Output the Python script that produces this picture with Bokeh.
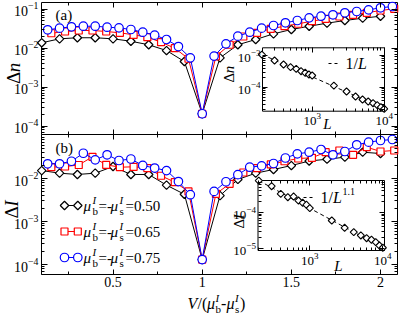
import math
from bokeh.plotting import figure
from bokeh.models import (Range1d, LogScale, LinearScale, LinearAxis, LogAxis, FixedTicker,
                          LogTickFormatter, NumeralTickFormatter, CustomJSTickFormatter, Label)
from bokeh.embed import file_html
from bokeh.resources import INLINE

# ---------------- data ----------------
mu_050, mu_065, mu_075 = 0.50, 0.65, 0.75

V_050 = [0.1, 0.2, 0.3, 0.4, 0.5, 0.6, 0.7, 0.8, 0.9, 1.0,
         1.1, 1.2, 1.3, 1.4, 1.5, 1.6, 1.7, 1.8, 1.9, 2.0]
dn_050 = [0.0136, 0.0172, 0.0183, 0.0183, 0.0172, 0.0149, 0.0121, 0.0086, 0.0045, 2.06e-4,
          0.0056, 0.0121, 0.0165, 0.0231, 0.0298, 0.0362, 0.0433, 0.0507, 0.0581, 0.0653]
dI_050 = [0.0153, 0.0133, 0.0124, 0.0133, 0.0190, 0.0124, 0.0124, 0.0070, 0.0043, 1.3e-4,
          0.0040, 0.0095, 0.0133, 0.0162, 0.0200, 0.0255, 0.0281, 0.0313, 0.0409, 0.0381]

V_065 = [0.2, 0.3, 0.4, 0.5, 0.6, 0.7, 0.8, 0.9, 1.0, 1.1, 1.2, 1.3, 1.4,
         1.5, 1.6, 1.7, 1.8, 1.9, 2.0, 2.1, 2.2, 2.3, 2.4, 2.5, 2.6, 2.7]
dn_065 = [0.0239, 0.0265, 0.0281, 0.0281, 0.0265, 0.0245, 0.0218, 0.0189, 0.0141, 0.0099, 0.0053,
          2.06e-4,
          0.0061, 0.0121, 0.0197, 0.0245, 0.0311, 0.0362, 0.0418, 0.0486, 0.0561, 0.0643,
          0.0710, 0.0800, 0.0916, 0.1012]
dI_065 = [0.0183, 0.0190, 0.0206, 0.0320, 0.0208, 0.0183, 0.0187, 0.0175, 0.0116, 0.0082, 0.0050,
          1.3e-4,
          0.0044, 0.0075, 0.0138, 0.0175, 0.0212, 0.0252, 0.0292, 0.0303, 0.0409, 0.0448,
          0.0356, 0.0534, 0.0425, 0.0448]

V_075 = [0.2, 0.3, 0.4, 0.5, 0.6, 0.7, 0.8, 0.9, 1.0, 1.1, 1.2, 1.3, 1.4, 1.5, 1.6,
         1.7, 1.8, 1.9, 2.0, 2.1, 2.2, 2.3, 2.4, 2.5, 2.6, 2.7, 2.8, 2.9, 3.0, 3.1]
dn_075 = [0.0293, 0.0322, 0.0350, 0.0362, 0.0362, 0.0341, 0.0329, 0.0298, 0.0254, 0.0213,
          0.0165, 0.0109, 0.0056,
          2.06e-4,
          0.0062, 0.0128, 0.0201, 0.0254, 0.0322, 0.0378, 0.0443, 0.0507, 0.0594, 0.0653,
          0.0710, 0.0800, 0.0863, 0.0953, 0.1074, 0.1159]
dI_075 = [0.0220, 0.0220, 0.0252, 0.0387, 0.0272, 0.0356, 0.0262, 0.0284, 0.0201, 0.0175,
          0.0153, 0.0085, 0.0042,
          1.3e-4,
          0.0050, 0.0084, 0.0123, 0.0183, 0.0197, 0.0223, 0.0300, 0.0375, 0.0409, 0.0472,
          0.0356, 0.0425, 0.0608, 0.0699, 0.0765, 0.0807]

# insets: finite-size scaling at the critical point
L_vals = [200, 300, 400, 500, 600, 700, 800, 900, 1000,
          2000, 3000, 4000, 5000, 6000, 7000, 8000, 9000, 10000]
dn_L = [1.07e-3, 6.98e-4, 5.23e-4, 4.31e-4, 3.84e-4, 3.23e-4, 2.88e-4, 2.55e-4, 2.37e-4,
        1.15e-4, 7.50e-5, 5.23e-5, 4.22e-5, 3.65e-5, 3.23e-5, 2.80e-5, 2.42e-5, 2.16e-5]
dI_L = [7.7e-4, 5.37e-4, 3.3e-4, 2.66e-4, 2.78e-4, 2.15e-4, 1.86e-4, 1.64e-4, 1.32e-4,
        6.0e-5, 3.76e-5, 2.84e-5, 2.3e-5, 1.93e-5, 1.75e-5, 1.5e-5, 1.21e-5, 1.05e-5]
fit_L = [200, 10000]
fit_dn = [1.08e-3, 2.16e-5]     # ~ 1/L
fit_dI = [7.7e-4, 1.04e-5]      # ~ 1/L^1.1

legend_values = ["0.50", "0.65", "0.75"]
x_ticks = [0.5, 1, 1.5, 2]
x_minor = [0.25, 0.75, 1.25, 1.75]
ya_ticks = [1e-4, 1e-3, 1e-2, 1e-1]
yb_ticks = [1e-4, 1e-3, 1e-2]
ia_xticks, ia_yticks = [1e3, 1e4], [1e-4, 1e-3]
ib_xticks, ib_yticks = [1e3, 1e4], [1e-5, 1e-4]

# ---------------- layout (canvas pixels, origin top-left) ----------------
FONT = "Liberation Serif"
CW, CH = 399, 316
FX0, FX1 = 41, 397            # main frame left / right
A_Y0, A_Y1 = 2, 134           # panel (a) top / bottom
B_Y0, B_Y1 = 134, 274         # panel (b) top / bottom
IA = (262, 384, 47.3, 110.7)  # inset (a) left, right, top, bottom
IB = (257.5, 384, 180, 250)   # inset (b)
LOG_MINOR = [m * 10.0 ** e for e in range(-7, 6) for m in range(2, 10)]


def Y(y):
    return CH - y


class Map:
    def __init__(self, v0, p0, v1, p1, log=False):
        self.log = log
        self.a = math.log10(v0) if log else v0
        b = math.log10(v1) if log else v1
        self.p0 = p0
        self.k = (b - self.a) / (p1 - p0)

    def val(self, px):
        t = self.a + (px - self.p0) * self.k
        return 10 ** t if self.log else t

    def rng(self, size):
        return Range1d(self.val(0), self.val(size))


mx = Map(1.0, 201.7, 2.0, 380.0)
ya = Map(1e-2, Y(47.5), 1e-1, Y(8.5), log=True)
yb = Map(1e-2, Y(178), 1e-3, Y(221), log=True)
iax = Map(1e3, 311.7, 1e4, 383.7, log=True)
iay = Map(1e-3, Y(55), 1e-4, Y(87), log=True)
ibx = Map(1e3, 309.3, 1e4, 382.3, log=True)
iby = Map(1e-4, Y(212), 1e-5, Y(248), log=True)

p = figure(width=CW, height=CH, x_range=Range1d(0, CW), y_range=Range1d(0, CH),
           x_axis_location=None, y_axis_location=None, toolbar_location=None,
           output_backend="svg", title=None, min_border=0)
p.min_border_left = p.min_border_right = p.min_border_top = p.min_border_bottom = 0
p.grid.visible = False
p.outline_line_color = None
p.background_fill_color = "white"
p.border_fill_color = "white"

p.extra_x_ranges = {"mx": mx.rng(CW), "iax": iax.rng(CW), "ibx": ibx.rng(CW)}
p.extra_x_scales = {"mx": LinearScale(), "iax": LogScale(), "ibx": LogScale()}
p.extra_y_ranges = {"ya": ya.rng(CH), "yb": yb.rng(CH), "iay": iay.rng(CH), "iby": iby.rng(CH)}
p.extra_y_scales = {"ya": LogScale(), "yb": LogScale(), "iay": LogScale(), "iby": LogScale()}


def x_of(V, mu):
    return [v / (mu - (-mu)) for v in V]


def within(vals, bounds):
    lo, hi = bounds
    return [v for v in vals if lo * (1 - 1e-9) <= v <= hi * (1 + 1e-9)] if lo > 0 else \
        [v for v in vals if lo <= v <= hi]


def add_axis(cls, side, ticks, minor, fixed, labels, xr, yr, bounds, size="14px",
             major=6, minor_len=3, formatter=None, standoff=3):
    ax = cls(ticker=FixedTicker(ticks=within(ticks, bounds), minor_ticks=within(minor, bounds)),
             fixed_location=fixed, x_range_name=xr, y_range_name=yr, bounds=bounds)
    ax.axis_line_color = None
    ax.major_tick_in = major
    ax.major_tick_out = 0
    ax.minor_tick_in = minor_len
    ax.minor_tick_out = 0
    ax.major_tick_line_color = "black"
    ax.minor_tick_line_color = "black"
    if labels:
        if formatter is not None:
            ax.formatter = formatter
        ax.major_label_text_font = FONT
        ax.major_label_text_font_size = size
        ax.major_label_standoff = standoff
        ax.major_label_text_color = "black"
    else:
        ax.formatter = CustomJSTickFormatter(code="return ''")
    p.add_layout(ax, side)


def lab(x, y_ref, text, size=15, style="normal", align="left", baseline="middle", angle=0):
    p.add_layout(Label(x=x, y=Y(y_ref), text=text, text_font=FONT,
                       text_font_size=f"{size}px", text_font_style=style,
                       text_align=align, text_baseline=baseline, angle=angle,
                       text_color="black"))


def subsup(x, y_ref, sub, sup, size=11):
    lab(x, y_ref + 5, sub, size=size)
    lab(x, y_ref - 6, sup, size=size, style="italic")


series = [
    (V_050, mu_050, dn_050, dI_050, "black", "square", 6, math.pi / 4),
    (V_065, mu_065, dn_065, dI_065, "red", "square", 7, 0),
    (V_075, mu_075, dn_075, dI_075, "blue", "circle", 8.5, 0),
]

# panel frames
p.quad(left=[FX0, FX0], right=[FX1, FX1], top=[Y(A_Y0), Y(B_Y0)], bottom=[Y(A_Y1), Y(B_Y1)],
       fill_color=None, line_color="black", line_width=1)

# main data
for V, mu, dn, dI, col, mk, sz, ang in series:
    xs = x_of(V, mu)
    for yr, ys in (("ya", dn), ("yb", dI)):
        p.line(xs, ys, x_range_name="mx", y_range_name=yr, line_color=col, line_width=1)
        p.scatter(xs, ys, x_range_name="mx", y_range_name=yr, marker=mk, size=sz, angle=ang,
                  fill_color="white", line_color=col, line_width=1.2)

# main axes
for ymap, yr, top, bot, yt, xlabels in ((ya, "ya", A_Y0, A_Y1, ya_ticks, False),
                                        (yb, "yb", B_Y0, B_Y1, yb_ticks, True)):
    ybounds = (ymap.val(Y(bot)), ymap.val(Y(top)))
    xbounds = (mx.val(FX0), mx.val(FX1))
    add_axis(LogAxis, "left", yt, LOG_MINOR, mx.val(FX0), True, "mx", yr, ybounds,
             size="14px", formatter=LogTickFormatter(), standoff=3)
    add_axis(LogAxis, "right", yt, LOG_MINOR, mx.val(FX1), False, "mx", yr, ybounds)
    add_axis(LinearAxis, "above", x_ticks, x_minor, ymap.val(Y(top)), False, "mx", yr, xbounds,
             major=5)
    add_axis(LinearAxis, "below", x_ticks, x_minor, ymap.val(Y(bot)), xlabels, "mx", yr, xbounds,
             size="14px", major=5, formatter=NumeralTickFormatter(format="0.[0]"), standoff=2)

# insets
for (l, r, t, b), xm, ym, xr, yr, yvals, fit_y, xt, yt in (
        (IA, iax, iay, "iax", "iay", dn_L, fit_dn, ia_xticks, ia_yticks),
        (IB, ibx, iby, "ibx", "iby", dI_L, fit_dI, ib_xticks, ib_yticks)):
    xb = (xm.val(l), xm.val(r))
    yb_ = (ym.val(Y(b)), ym.val(Y(t)))
    p.quad(left=[xb[0]], right=[xb[1]], bottom=[yb_[0]], top=[yb_[1]],
           x_range_name=xr, y_range_name=yr,
           fill_color="white", line_color="black", line_width=1)
    p.line(fit_L, fit_y, x_range_name=xr, y_range_name=yr,
           line_color="black", line_width=1, line_dash="4 3")
    p.scatter(L_vals, yvals, x_range_name=xr, y_range_name=yr, marker="square", size=5,
              angle=math.pi / 4, fill_color="white", line_color="black", line_width=1.1)
    add_axis(LogAxis, "below", xt, LOG_MINOR, yb_[0], True, xr, yr, xb, size="13px",
             major=5, formatter=LogTickFormatter(), standoff=2)
    add_axis(LogAxis, "above", xt, LOG_MINOR, yb_[1], False, xr, yr, xb, major=5)
    add_axis(LogAxis, "left", yt, LOG_MINOR, xb[0], True, xr, yr, yb_, size="13px",
             major=5, formatter=LogTickFormatter(), standoff=2)
    add_axis(LogAxis, "right", yt, LOG_MINOR, xb[1], False, xr, yr, yb_, major=5)

# ---------------- texts ----------------
lab(55, 14, "(a)", size=15)
lab(55, 147, "(b)", size=15)

# y-axis titles (rotated)
lab(13, 83.5, "Δ", size=19, angle=math.pi / 2)
lab(13, 71.8, "n", size=19, style="italic", angle=math.pi / 2)
lab(11, 218, "Δ", size=19, angle=math.pi / 2)
lab(11, 206.3, "I", size=19, style="italic", angle=math.pi / 2)

# x-axis title  V/(mu_b^I - mu_s^I)
tx, ty = 187, 303
lab(tx, ty, "V", size=16, style="italic")
lab(tx + 10, ty, "/(", size=16)
lab(tx + 19.5, ty, "μ", size=16, style="italic")
subsup(tx + 28, ty, "b", "I")
lab(tx + 33.5, ty, "-", size=16)
lab(tx + 39, ty, "μ", size=16, style="italic")
subsup(tx + 47.5, ty, "s", "I")
lab(tx + 52.5, ty, ")", size=16)

# main legend in panel (b)
LEG_X0, LEG_X1, LEG_TX = 64, 77.3, 83
LEG_Y0, LEG_DY = 205, 26
for i, (V, mu, dn, dI, col, mk, sz, ang) in enumerate(series):
    yy = LEG_Y0 + i * LEG_DY
    p.line([LEG_X0, LEG_X1], [Y(yy), Y(yy)], line_color=col, line_width=1)
    p.scatter([LEG_X0, LEG_X1], [Y(yy), Y(yy)], marker=mk, size=sz, angle=ang,
              fill_color="white", line_color=col, line_width=1.2)
    lab(LEG_TX, yy, "μ", size=15, style="italic")
    subsup(LEG_TX + 9, yy, "b", "I")
    lab(LEG_TX + 15, yy, "=-", size=15)
    lab(LEG_TX + 27, yy, "μ", size=15, style="italic")
    subsup(LEG_TX + 36, yy, "s", "I")
    lab(LEG_TX + 42, yy, "=" + legend_values[i], size=15)

# inset (a) texts
lab(228.5, 82, "Δ", size=15, angle=math.pi / 2)
lab(228.5, 72.8, "n", size=15, style="italic", angle=math.pi / 2)
lab(327, 123, "L", size=15, style="italic", align="center")
p.line([328, 337], [Y(63), Y(63)], line_color="black", line_width=1, line_dash="3 3")
lab(345, 63, "1/", size=16)
lab(357.5, 63, "L", size=16, style="italic")

# inset (b) texts
lab(238, 228, "Δ", size=15, angle=math.pi / 2)
lab(238, 218.8, "I", size=15, style="italic", angle=math.pi / 2)
lab(338, 265, "L", size=15, style="italic", align="center")
p.line([303, 312], [Y(197), Y(197)], line_color="black", line_width=1, line_dash="3 3")
lab(320, 197, "1/", size=16)
lab(332.5, 197, "L", size=16, style="italic")
lab(342, 191, "1.1", size=10)

open("out.html", "w").write(file_html(p, INLINE))
